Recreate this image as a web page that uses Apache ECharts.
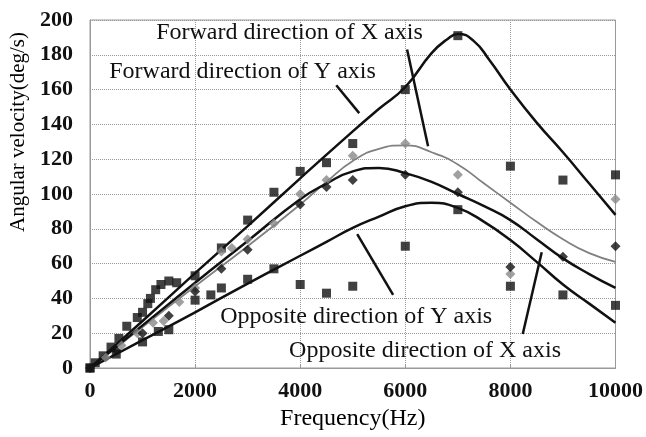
<!DOCTYPE html>
<html>
<head>
<meta charset="utf-8">
<script src="https://cdn.jsdelivr.net/npm/echarts@6/dist/echarts.min.js"></script>
<style>
  html, body { margin: 0; padding: 0; background: #fff; }
  #chart { width: 646px; height: 437px; }
</style>
</head>
<body>
<div id="chart"></div>
<script>
// 测量点 (频率 Hz, 角速度 deg/s)
var fwdYPoints = [[0,0],[100,3],[250,7],[400,12],[550,17],[700,24],[900,29],[1000,32],[1100,37],[1150,40],[1250,45],[1350,48],[1500,50],[1650,49],[2000,53],[2500,69],[3000,85],[3500,101],[4000,113],[4500,118],[5000,129],[6000,160],[7000,191],[8000,116],[9000,108],[10000,111]];
var fwdXPoints = [[0,0],[300,6],[600,13],[900,20],[1200,26],[1400,27],[1700,38],[2000,46],[2500,67],[2700,69],[3000,74],[3500,83],[4000,100],[4500,108],[5000,122],[6000,129],[7000,111],[8000,54],[10000,97]];
var oppYPoints = [[0,0],[500,10],[1000,20],[1500,30],[2000,44],[2500,57],[3000,68],[4000,94],[4500,104],[5000,108],[6000,111],[7000,101],[8000,58],[9000,64],[10000,70]];
var oppXPoints = [[0,0],[500,8],[1000,15],[1300,21],[1500,22],[2000,39],[2300,42],[2500,46],[3000,51],[3500,57],[4000,48],[4500,43],[5000,47],[6000,70],[7000,91],[8000,47],[9000,42],[10000,36]];

// 拟合曲线
var fwdYCurve = [[0,0],[1000,27],[2000,54.5],[3000,81.5],[4000,109],[5000,136],[5500,149],[6000,161.5],[6500,181],[6800,189],[7000,192],[7300,188],[7600,177],[8000,160],[8500,141],[9000,124],[9500,106],[10000,88]];
var fwdXCurve = [[0,0],[1000,23.5],[2000,47],[3000,70],[4000,94],[4500,107],[5000,119],[5500,126],[6000,128],[6500,124],[7000,117],[7500,106],[8000,95],[8500,84],[9000,74],[9500,66],[10000,61]];
var oppYCurve = [[0,0],[1000,24.5],[2000,49],[3000,73],[4000,97],[4500,106],[5000,113],[5500,115],[6000,112],[6500,107],[7000,100],[7500,93],[8000,85],[8500,74],[9000,63],[9500,54],[10000,46]];
var oppXCurve = [[0,0],[1000,16],[2000,32],[3000,48.5],[4000,64.5],[4500,72.5],[5000,80.5],[5500,87],[6000,93],[6500,95],[7000,92],[7500,84],[8000,73.5],[8500,61],[9000,48],[9500,37],[10000,26]];

// 标注文字与引线
var labelTexts = ['Forward direction of X axis', 'Forward direction of Y axis', 'Opposite direction of Y axis', 'Opposite direction of X axis'];
var labelCoords = [[3795,192.5],[2903,170.5],[5066,29.5],[6376,10]];
var leaderLines = [
  [[6034,183],[6433,127.5]],
  [[4687,162.5],[5123,146.5]],
  [[5085,77],[5768,42]],
  [[8596,66.5],[8235,19.5]]
];

var xTicks = [0, 2000, 4000, 6000, 8000, 10000];
var yTicks = [0, 20, 40, 60, 80, 100, 120, 140, 160, 180, 200];

var serif = 'Liberation Serif';
var chart = echarts.init(document.getElementById('chart'));

function curve(data, color, width) {
  return {
    type: 'line',
    data: data,
    smooth: 0.5,
    showSymbol: false,
    silent: true,
    z: 2,
    lineStyle: { color: color, width: width }
  };
}
function points(data, symbol, size, color) {
  return {
    type: 'scatter',
    data: data,
    symbol: symbol,
    symbolSize: size,
    silent: true,
    z: 3,
    itemStyle: { color: color }
  };
}

chart.setOption({
  animation: false,
  grid: {
    left: 90, right: 29, top: 20, bottom: 69,
    show: true, borderColor: '#999', borderWidth: 1
  },
  xAxis: {
    type: 'value',
    min: xTicks[0], max: xTicks[xTicks.length - 1], interval: 2000,
    name: 'Frequency(Hz)',
    nameLocation: 'middle',
    nameGap: 35,
    nameTextStyle: { fontFamily: serif, fontSize: 24, color: '#000' },
    axisLine: { lineStyle: { color: '#999' } },
    axisTick: { show: true, inside: true, length: 4, lineStyle: { color: '#999' } },
    axisLabel: {
      fontFamily: serif, fontSize: 22, fontWeight: 'bold', color: '#111', margin: 12,
      formatter: function (v) { return String(v); }
    },
    splitLine: { show: true, lineStyle: { color: '#999', type: 'dotted' } }
  },
  yAxis: {
    type: 'value',
    min: yTicks[0], max: yTicks[yTicks.length - 1], interval: 20,
    name: 'Angular velocity(deg/s)',
    nameLocation: 'middle',
    nameGap: 54,
    nameTextStyle: { fontFamily: serif, fontSize: 21, color: '#000', padding: [0, 0, 0, 124] },
    axisLine: { show: true, lineStyle: { color: '#999' } },
    axisTick: { show: false },
    axisLabel: { fontFamily: serif, fontSize: 22, fontWeight: 'bold', color: '#111', margin: 17 },
    splitLine: { show: true, lineStyle: { color: '#999', type: 'dotted' } }
  },
  series: [
    curve(fwdYCurve, '#111', 2.5),
    curve(fwdXCurve, '#808080', 1.8),
    curve(oppYCurve, '#111', 2.5),
    curve(oppXCurve, '#111', 2.5),
    points(fwdYPoints, 'rect', 9, '#111'),
    points(fwdXPoints, 'diamond', 10, '#888'),
    points(oppYPoints, 'diamond', 10, '#111'),
    points(oppXPoints, 'rect', 9, '#111'),
    {
      type: 'line',
      data: [],
      silent: true,
      markLine: {
        silent: true,
        symbol: ['none', 'none'],
        label: { show: false },
        lineStyle: { color: '#111', width: 2.5, type: 'solid' },
        data: leaderLines.map(function (l) {
          return [{ coord: l[0] }, { coord: l[1] }];
        })
      },
      markPoint: {
        silent: true,
        symbol: 'circle',
        symbolSize: 1,
        itemStyle: { color: 'rgba(0,0,0,0)' },
        label: {
          show: true,
          position: 'inside',
          fontFamily: serif,
          fontSize: 24,
          color: '#111',
          formatter: function (p) { return p.name; }
        },
        data: labelTexts.map(function (t, i) {
          return { name: t, coord: labelCoords[i] };
        })
      }
    }
  ]
});
</script>
</body>
</html>
